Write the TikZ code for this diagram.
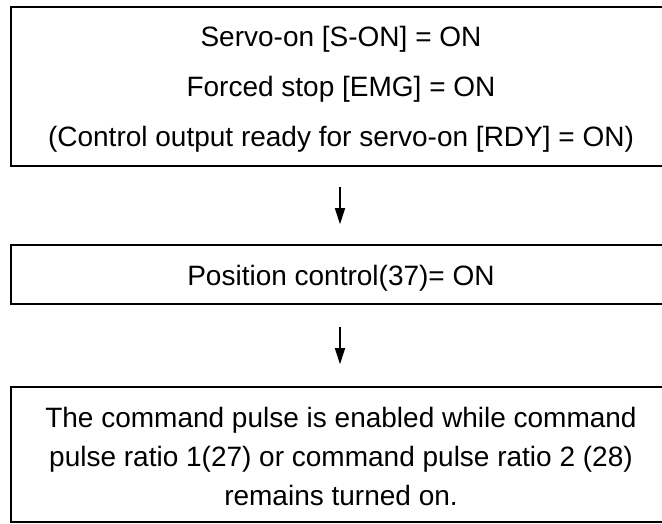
\documentclass[tikz,border=0pt]{standalone}
\usepackage{fontspec}
\setmainfont{Liberation Sans}
\usetikzlibrary{arrows.meta}
\begin{document}
\begin{tikzpicture}[x=1pt,y=-1pt,
  box/.style={draw, line width=2.6pt, inner sep=0pt, minimum width=660pt},
  txt/.style={font=\fontsize{28}{34}\selectfont, anchor=base, inner sep=0pt},
  flow/.style={line width=1.6pt, -{Triangle[width=10pt,length=16pt]}}]
\useasboundingbox (0,0) rectangle (662,524);
\clip (0,0) rectangle (662,524);
\fill[white] (0,0) rectangle (662,524);
% boxes
\node[box, minimum height=159pt] (b1) at (341,86.5) {};
\node[box, minimum height=59pt] (b2) at (341,274.5) {};
\node[box, minimum height=135pt] (b3) at (341,454.5) {};
% texts
\node[txt] (t11) at (341,47) {Servo-on [S-ON] = ON};
\node[txt] (t12) at (341,97) {Forced stop [EMG] = ON};
\node[txt] (t13) at (341,147) {(Control output ready for servo-on [RDY] = ON)};
\node[txt] (t21) at (341,285) {Position control(37)= ON};
\node[txt] (t31) at (341,427) {The command pulse is enabled while command};
\node[txt] (t32) at (341,466) {pulse ratio 1(27) or command pulse ratio 2 (28)};
\node[txt] (t33) at (341,505) {remains turned on.};
% connectors
\draw[flow, shorten <=19.5pt, shorten >=19.5pt] (b1.south -| 340,0) -- (b2.north -| 340,0);
\draw[flow, shorten <=21.5pt, shorten >=21.5pt] (b2.south -| 340,0) -- (b3.north -| 340,0);
\end{tikzpicture}
\end{document}
